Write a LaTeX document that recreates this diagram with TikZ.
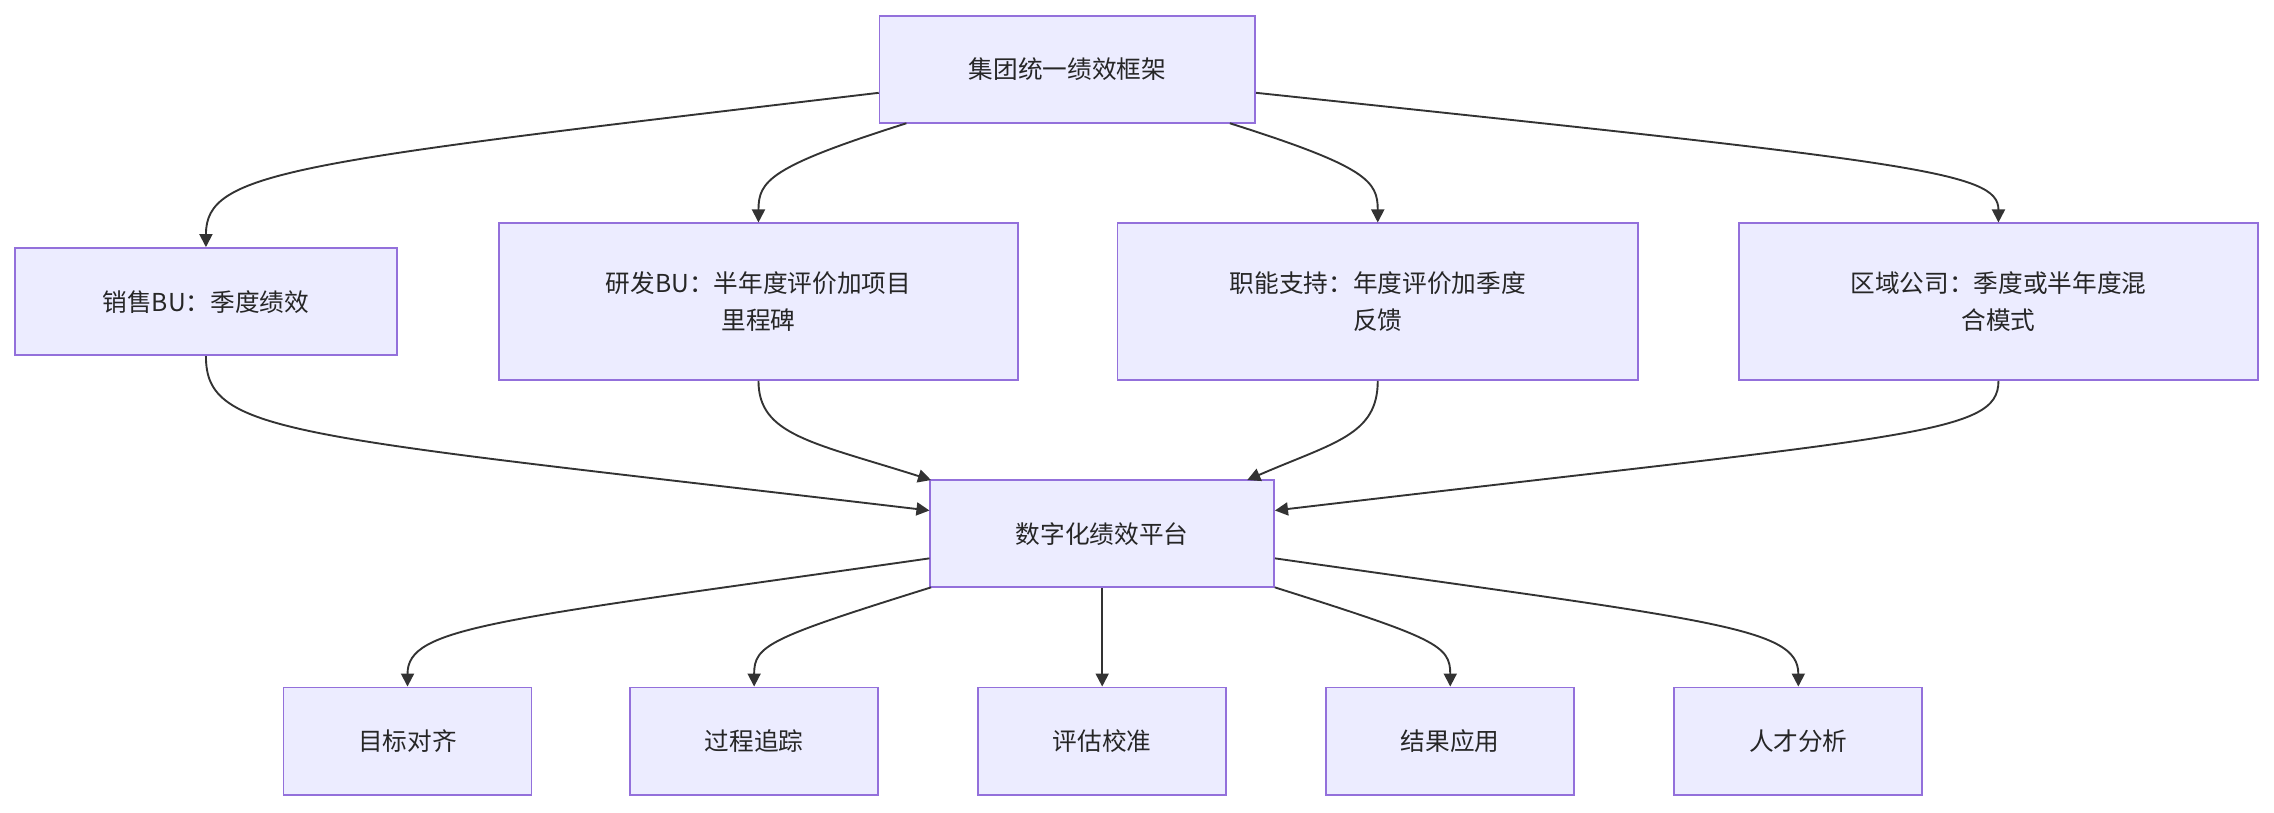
\documentclass[tikz,border=0pt]{standalone}
\usepackage{fontspec}
\setmainfont{Noto Sans CJK SC}
\usetikzlibrary{arrows.meta}
\definecolor{nfill}{HTML}{ECECFF}
\definecolor{nline}{HTML}{9370DB}
\definecolor{eline}{HTML}{333333}
\begin{document}
\begin{tikzpicture}[x=1pt,y=-1pt,
  box/.style={draw=nline,fill=nfill,line width=1.2pt,align=center,inner sep=0pt,font=\fontsize{17}{26}\selectfont,text=black!85},
  e/.style={draw=eline,line width=1.3pt,-{Triangle[length=9pt,width=9pt]}}]
\useasboundingbox (0,0) rectangle (1568,560);
\node[box,minimum width=259,minimum height=74] (top) at (736,48) {集团统一绩效框架};
\node[box,minimum width=263,minimum height=74] (s) at (142,208) {销售BU：季度绩效};
\node[box,minimum width=358,minimum height=108] (r) at (523,208) {研发BU：半年度评价加项目\\里程碑};
\node[box,minimum width=359,minimum height=108] (f) at (950,208) {职能支持：年度评价加季度\\反馈};
\node[box,minimum width=358,minimum height=108] (g) at (1378,208) {区域公司：季度或半年度混\\合模式};
\node[box,minimum width=237,minimum height=74] (p) at (760,368) {数字化绩效平台};
\node[box,minimum width=171,minimum height=74] (b1) at (281,511) {目标对齐};
\node[box,minimum width=171,minimum height=74] (b2) at (520,511) {过程追踪};
\node[box,minimum width=171,minimum height=74] (b3) at (760,511) {评估校准};
\node[box,minimum width=171,minimum height=74] (b4) at (1000,511) {结果应用};
\node[box,minimum width=171,minimum height=74] (b5) at (1240,511) {人才分析};
\draw[e] (top.west|-0,64) .. controls (200,112) and (142,118) .. (s.north);
\draw[e] (625,85) .. controls (530,115) and (523,125) .. (r.north);
\draw[e] (848,85) .. controls (943,115) and (950,125) .. (f.north);
\draw[e] (top.east|-0,64) .. controls (1320,112) and (1378,118) .. (g.north);
\draw[e] (s.south) .. controls (142,300) and (200,300) .. (p.west|-0,352);
\draw[e] (r.south) .. controls (523,300) and (560,305) .. (642,331);
\draw[e] (f.south) .. controls (950,300) and (920,305) .. (860,331);
\draw[e] (g.south) .. controls (1378,300) and (1320,300) .. (p.east|-0,352);
\draw[e] (p.west|-0,385) .. controls (340,428) and (281,432) .. (b1.north);
\draw[e] (642,405) .. controls (530,440) and (520,445) .. (b2.north);
\draw[e] (p.south) -- (b3.north);
\draw[e] (879,405) .. controls (990,440) and (1000,445) .. (b4.north);
\draw[e] (p.east|-0,385) .. controls (1180,428) and (1240,432) .. (b5.north);
\end{tikzpicture}
\end{document}
